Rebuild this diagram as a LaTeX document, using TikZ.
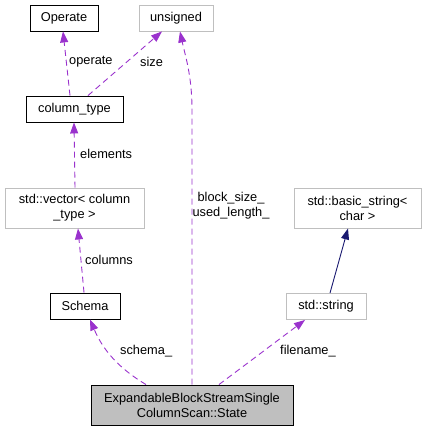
\documentclass[tikz,border=0pt]{standalone}
\usepackage{fontspec}
\setmainfont{Liberation Sans}
\usetikzlibrary{arrows.meta}
\definecolor{edgepurple}{HTML}{9A32CD}
\definecolor{edgenavy}{HTML}{191970}
\definecolor{graybox}{HTML}{BFBFBF}
\tikzset{
  fnt/.style={font=\fontsize{12.8}{15}\selectfont},
  box/.style={draw=black, line width=0.9pt, fill=white, inner sep=0pt, fnt, align=center},
  extbox/.style={draw=graybox, line width=0.9pt, fill=white, inner sep=0pt, fnt, align=center},
  mainbox/.style={draw=black, line width=0.9pt, fill=graybox, inner sep=0pt, fnt, align=center},
  usage/.style={draw=edgepurple, line width=0.9pt, dash pattern=on 6pt off 4pt, -{Triangle[length=11pt,width=8pt,fill=edgepurple]}},
  inherit/.style={draw=edgenavy, line width=0.9pt, -{Triangle[length=11pt,width=8pt,fill=edgenavy]}},
  lbl/.style={fnt, inner sep=0pt, align=center}
}
\begin{document}
\begin{tikzpicture}[x=1pt,y=-1pt]
\useasboundingbox (0,0) rectangle (425,432);
% nodes (pixel coordinates, y downward)
\node[box, minimum width=68pt, minimum height=26pt] (operate) at (64,18) {Operate};
\node[extbox, minimum width=74pt, minimum height=26pt] (unsigned) at (176,18) {unsigned};
\node[box, minimum width=97pt, minimum height=26pt] (coltype) at (74.5,109) {column\_type};
\node[extbox, minimum width=139pt, minimum height=40pt] (vector) at (74.5,208) {std::vector< column\\\_type >};
\node[box, minimum width=70pt, minimum height=26pt] (schema) at (85,306) {Schema};
\node[mainbox, minimum width=202pt, minimum height=40pt] (state) at (192,405) {ExpandableBlockStreamSingle\\ColumnScan::State};
\node[extbox, minimum width=80pt, minimum height=26pt] (string) at (326,306.5) {std::string};
\node[extbox, minimum width=127pt, minimum height=40pt] (bstring) at (357.5,208) {std::basic\_string<\\char >};
% connectors
\draw[usage] (coltype.north -| 70,0) -- (operate.south -| 63,0);
\draw[usage] (coltype.north -| 88,0) -- (unsigned.south -| 162,0);
\draw[usage] (vector.north -| 75,0) -- (coltype.south -| 74,0);
\draw[usage] (schema.north -| 84,0) -- (vector.south -| 78,0);
\draw[usage] (state.north -| 146,0) .. controls (125,372) and (105,355) .. (schema.south -| 90,0);
\draw[usage] (state.north -| 192,0) -- (192,110) .. controls (192,75) and (185,55) .. (unsigned.south -| 180,0);
\draw[usage] (state.north -| 219,0) -- (string.south -| 305,0);
\draw[inherit] (string.north -| 330,0) -- (bstring.south -| 348,0);
% labels
\node[lbl, anchor=west] at (69,62) {operate};
\node[lbl, anchor=west] at (140,62) {size};
\node[lbl, anchor=west] at (80,154) {elements};
\node[lbl, anchor=west] at (85,260) {columns};
\node[lbl, anchor=west] at (120,351) {schema\_};
\node[lbl, anchor=west] at (280,351) {filename\_};
\node[lbl] at (231,206) {block\_size\_\\used\_length\_};
\end{tikzpicture}
\end{document}
